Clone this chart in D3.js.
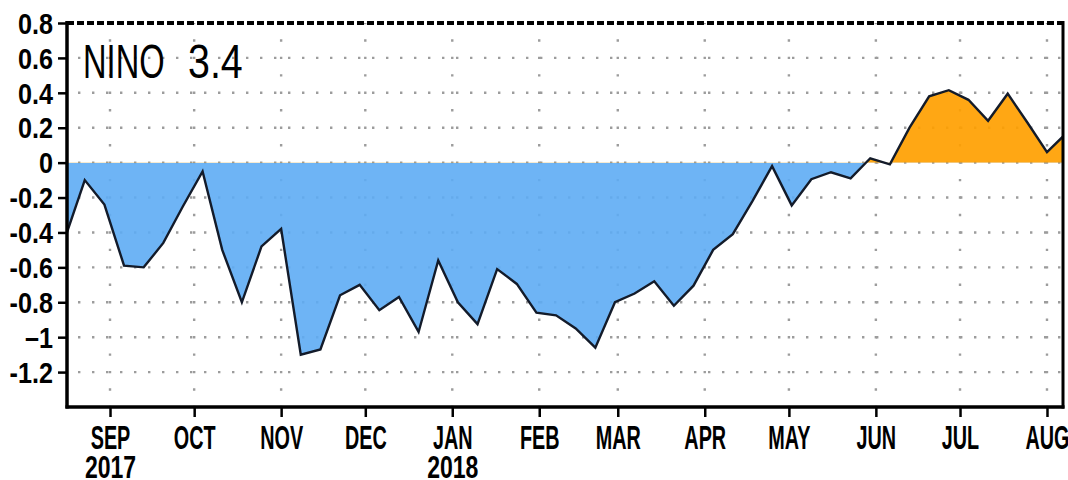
<!DOCTYPE html>
<html>
<head>
<meta charset="utf-8">
<script src="https://cdn.jsdelivr.net/npm/d3@7"></script>
<style>
  html, body { margin: 0; padding: 0; background: #fff; }
  svg { display: block; }
</style>
</head>
<body>
<svg id="chart" width="1068" height="480"></svg>
<script>
// Weekly Niño 3.4 SST anomaly (°C), weeks centred on Wednesdays
const firstWeek = "2017-08-16";
const ninoValues = [
  -0.43, -0.10, -0.24, -0.59, -0.60, -0.46, -0.25, -0.05, -0.50, -0.80,
  -0.48, -0.38, -1.10, -1.07, -0.76, -0.70, -0.845, -0.77, -0.97, -0.56,
  -0.80, -0.925, -0.61, -0.695, -0.86, -0.875, -0.95, -1.06, -0.80, -0.75,
  -0.68, -0.82, -0.705, -0.50, -0.41, -0.22, -0.02, -0.245, -0.095, -0.055,
  -0.09, 0.025, -0.01, 0.20, 0.38, 0.415, 0.36, 0.24, 0.395, 0.23,
  0.06, 0.17
];

// Axis labels
const monthLabels = ["SEP", "OCT", "NOV", "DEC", "JAN", "FEB", "MAR", "APR", "MAY", "JUN", "JUL", "AUG"];
const yearLabels  = ["2017", "", "", "", "2018", "", "", "", "", "", "", ""];
const yTickValues = [0.8, 0.6, 0.4, 0.2, 0, -0.2, -0.4, -0.6, -0.8, -1, -1.2];
const yTickLabels = ["0.8", "0.6", "0.4", "0.2", "0", "-0.2", "-0.4", "-0.6", "-0.8", "\u20131", "-1.2"];
const titleParts  = ["NINO", "3.4"];

const svg = d3.select("#chart");
const plot = { left: 67, right: 1063, top: 23, bottom: 407 };

const start = d3.utcParse("%Y-%m-%d")(firstWeek);
const data = ninoValues.map((v, i) => ({ date: d3.utcDay.offset(start, 7 * i), value: v }));

const x = d3.scaleUtc()
  .domain([new Date(Date.UTC(2017, 7, 16, 16)), new Date(Date.UTC(2018, 7, 6, 17))])
  .range([plot.left, plot.right]);
const y = d3.scaleLinear().domain([-1.4, 0.8]).range([plot.bottom, plot.top]);

const monthTicks = d3.utcMonth.range(new Date(Date.UTC(2017, 8, 1)), new Date(Date.UTC(2018, 7, 2)));

const defs = svg.append("defs");
defs.append("clipPath").attr("id", "plotClip").append("rect")
  .attr("x", plot.left).attr("y", plot.top)
  .attr("width", plot.right - plot.left).attr("height", plot.bottom - plot.top);
defs.append("clipPath").attr("id", "negClip").append("rect")
  .attr("x", plot.left).attr("y", y(0))
  .attr("width", plot.right - plot.left).attr("height", plot.bottom - y(0));
defs.append("clipPath").attr("id", "posClip").append("rect")
  .attr("x", plot.left).attr("y", plot.top)
  .attr("width", plot.right - plot.left).attr("height", y(0) - plot.top);

// Dotted grid
const grid = svg.append("g").attr("stroke", "#9c9c9c").attr("stroke-width", 2.4).attr("fill", "none");
const gridLevels = d3.range(-12, 8, 2).map(d => d / 10);
grid.selectAll("line.h").data(gridLevels).join("line")
  .attr("class", "h")
  .attr("x1", plot.left + 11).attr("x2", plot.right)
  .attr("y1", d => y(d)).attr("y2", d => y(d))
  .attr("stroke-dasharray", "2.4,11.6");
const step = y(0) - y(0.1);
grid.selectAll("line.v").data(monthTicks).join("line")
  .attr("class", "v")
  .attr("x1", d => x(d)).attr("x2", d => x(d))
  .attr("y1", plot.top).attr("y2", plot.bottom)
  .attr("stroke-dasharray", `2.4,${step - 2.4}`)
  .attr("stroke-dashoffset", 1.2);

// Filled anomaly areas
const area = d3.area().x(d => x(d.date)).y0(y(0)).y1(d => y(d.value));
const areas = svg.append("g").attr("clip-path", "url(#plotClip)");
areas.append("g").attr("clip-path", "url(#negClip)").append("path")
  .datum(data).attr("d", area).attr("fill", "#5eacf4").attr("fill-opacity", 0.9);
areas.append("g").attr("clip-path", "url(#posClip)").append("path")
  .datum(data).attr("d", area).attr("fill", "#ffa000").attr("fill-opacity", 0.92);

// Anomaly line
const line = d3.line().x(d => x(d.date)).y(d => y(d.value));
svg.append("g").attr("clip-path", "url(#plotClip)").append("path")
  .datum(data).attr("d", line)
  .attr("fill", "none").attr("stroke", "#131b2a").attr("stroke-width", 2.4)
  .attr("stroke-linejoin", "miter");

// Frame
const frame = svg.append("g").attr("stroke", "#000").attr("fill", "none");
frame.append("line").attr("x1", plot.left).attr("x2", plot.right)
  .attr("y1", plot.top).attr("y2", plot.top)
  .attr("stroke-width", 4).attr("stroke-dasharray", "7,3");
frame.append("line").attr("x1", plot.right).attr("x2", plot.right)
  .attr("y1", plot.top - 2).attr("y2", plot.bottom + 1.5).attr("stroke-width", 3);
frame.append("line").attr("x1", plot.left).attr("x2", plot.left)
  .attr("y1", plot.top - 2).attr("y2", plot.bottom + 1.5).attr("stroke-width", 3.5);
frame.append("line").attr("x1", plot.left - 1.5).attr("x2", plot.right + 1.5)
  .attr("y1", plot.bottom).attr("y2", plot.bottom).attr("stroke-width", 3.5);

const labelFont = "'Liberation Sans', Arial, sans-serif";

// Y axis
const ySx = 0.84;
const yAxis = d3.axisLeft(y).tickValues(yTickValues)
  .tickFormat((d, i) => yTickLabels[i]).tickSize(9).tickSizeOuter(0);
const gy = svg.append("g").attr("transform", `translate(${plot.left},0)`).call(yAxis);
gy.select(".domain").remove();
gy.selectAll(".tick line").attr("stroke", "#000").attr("stroke-width", 2.5);
gy.selectAll(".tick text")
  .attr("fill", "#000").attr("font-family", labelFont).attr("font-weight", "bold")
  .attr("font-size", 30).attr("x", -14 / ySx).attr("dy", "0.34em")
  .attr("transform", `scale(${ySx},1)`);

// X axis
const xSx = 0.6;
const xAxis = d3.axisBottom(x).tickValues(monthTicks)
  .tickFormat((d, i) => monthLabels[i]).tickSize(10).tickSizeOuter(0);
const gx = svg.append("g").attr("transform", `translate(0,${plot.bottom})`).call(xAxis);
gx.select(".domain").remove();
gx.selectAll(".tick line").attr("stroke", "#000").attr("stroke-width", 2.5);
gx.selectAll(".tick text")
  .attr("fill", "#000").attr("font-family", labelFont).attr("font-weight", "bold")
  .attr("font-size", 33).attr("y", 42).attr("dy", 0)
  .attr("transform", `scale(${xSx},1)`);
gx.selectAll(".tick").append("text")
  .text((d, i) => yearLabels[i])
  .attr("fill", "#000").attr("font-family", labelFont).attr("font-weight", "bold")
  .attr("font-size", 32).attr("y", 71).attr("text-anchor", "middle")
  .attr("transform", "scale(0.72,1)");

// Title
const title = svg.append("g").attr("font-family", labelFont).attr("font-size", 48).attr("fill", "#000");
title.append("text").attr("transform", "translate(83,78) scale(0.68,1)").text(titleParts[0]);
title.append("text").attr("transform", "translate(188,78) scale(0.82,1)").text(titleParts[1]);
</script>
</body>
</html>
